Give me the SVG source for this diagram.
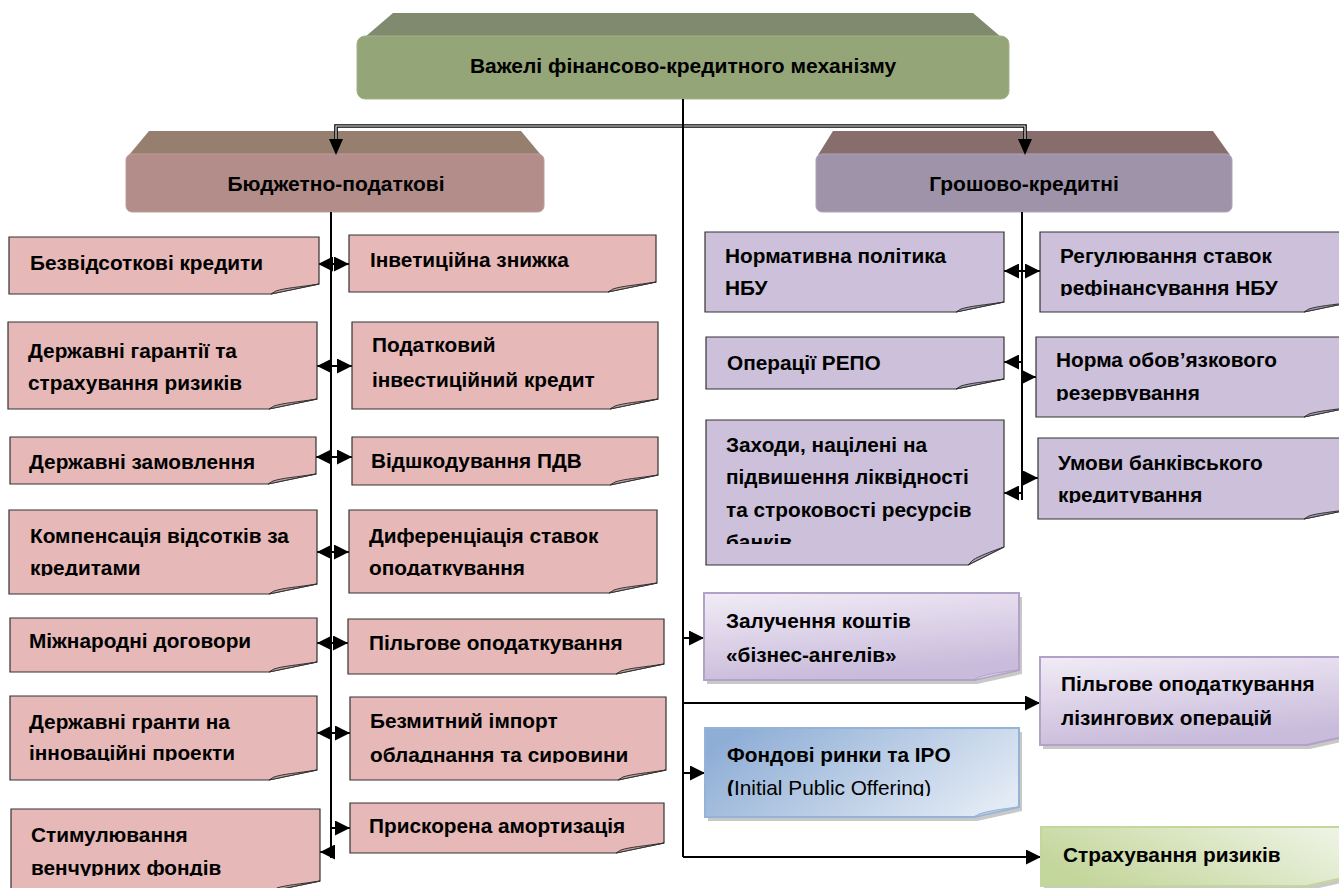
<svg xmlns="http://www.w3.org/2000/svg" width="1339" height="888" viewBox="0 0 1339 888">
<style>
.t{font-family:"Liberation Sans",Arial,sans-serif;font-weight:bold;font-size:20.8px;fill:#000}
.h{font-family:"Liberation Sans",Arial,sans-serif;font-weight:bold;font-size:21px;fill:#000;text-anchor:middle}
.pink{fill:#e6b8b7;stroke:#333;stroke-width:1.2}
.pfold{fill:#c7a3a2;stroke:#333;stroke-width:1}
.lav{fill:#ccc0da;stroke:#333;stroke-width:1.2}
.lfold{fill:#a79fb3;stroke:#333;stroke-width:1}
.conn{stroke:#000;stroke-width:2;fill:none}
.shadow{fill:#9a9a9a;opacity:0.55}
</style>
<defs>
<marker id="ah" viewBox="0 0 14 14" refX="14" refY="7" markerWidth="15" markerHeight="15" markerUnits="userSpaceOnUse" orient="auto-start-reverse"><path d="M0,0 L14,7 L0,14 Z" fill="#000"/></marker>
<linearGradient id="gLav" x1="0" y1="0" x2="0.3" y2="1"><stop offset="0" stop-color="#f1ecf6"/><stop offset="1" stop-color="#c9bbdb"/></linearGradient>
<linearGradient id="gBlue" x1="0" y1="0.3" x2="1" y2="0.7"><stop offset="0" stop-color="#8faed6"/><stop offset="1" stop-color="#e2eaf4"/></linearGradient>
<linearGradient id="gGreen" x1="0" y1="0.6" x2="1" y2="0.2"><stop offset="0" stop-color="#c3d69b"/><stop offset="1" stop-color="#eef3e3"/></linearGradient>
<clipPath id="cL4"><rect x="0" y="500" width="340" height="76"/></clipPath>
<clipPath id="cL6"><rect x="0" y="690" width="340" height="71"/></clipPath>
<clipPath id="cL7"><rect x="0" y="800" width="340" height="76"/></clipPath>
<clipPath id="cR4"><rect x="340" y="500" width="340" height="76"/></clipPath>
<clipPath id="cR6"><rect x="340" y="690" width="340" height="73"/></clipPath>
<clipPath id="cQ1"><rect x="1030" y="225" width="320" height="71"/></clipPath>
<clipPath id="cQ2"><rect x="1030" y="330" width="320" height="71"/></clipPath>
<clipPath id="cQ3"><rect x="1030" y="430" width="320" height="73"/></clipPath>
<clipPath id="cP3"><rect x="700" y="415" width="310" height="129"/></clipPath>
<clipPath id="cS2"><rect x="1030" y="650" width="320" height="76"/></clipPath>
<clipPath id="cS3"><rect x="700" y="720" width="320" height="76"/></clipPath>
</defs>

<!-- top node -->
<g id="root">
<polygon points="393,13 973,13 1001,37 365,37" fill="#7f8a6f"/>
<rect x="357" y="36" width="652" height="63" rx="8" fill="#94a578" stroke="#a3b28a" stroke-width="1"/>
<text class="h" x="683" y="73">Важелі фінансово-кредитного механізму</text>
</g>

<g id="cat-budget">
<polygon points="149,131 521,131 541,155 129,155" fill="#967f6e"/>
<rect x="126" y="154" width="418" height="58" rx="6" fill="#b28d8a" stroke="#bf9d9a" stroke-width="1"/>
<text class="h" x="336" y="191">Бюджетно-податкові</text>
</g>

<g id="cat-money">
<polygon points="833,131 1213,131 1230,155 818,155" fill="#876e6c"/>
<rect x="816" y="154" width="416" height="58" rx="6" fill="#9e93a8" stroke="#aea3b6" stroke-width="1"/>
<text class="h" x="1024" y="191">Грошово-кредитні</text>
</g>

<!-- connectors -->
<g id="connectors">
<path d="M336,140 V126 H1025 V140" stroke="#000" stroke-width="3.6" fill="none"/>
<path d="M336,140 V126 H1025 V140" stroke="#fff" stroke-width="1.1" fill="none"/>
<polygon points="329,139 343,139 336,155" fill="#000"/>
<polygon points="1018,139 1032,139 1025,155" fill="#000"/>
<path class="conn" d="M683,99 V857"/>
<path class="conn" d="M331,212 V858"/>
<path class="conn" d="M1022,212 V500"/>
<path class="conn" d="M318,264 H349" marker-start="url(#ah)" marker-end="url(#ah)"/>
<path class="conn" d="M317,366 H352" marker-start="url(#ah)" marker-end="url(#ah)"/>
<path class="conn" d="M316,457 H352" marker-start="url(#ah)" marker-end="url(#ah)"/>
<path class="conn" d="M317,552 H349" marker-start="url(#ah)" marker-end="url(#ah)"/>
<path class="conn" d="M317,643 H348" marker-start="url(#ah)" marker-end="url(#ah)"/>
<path class="conn" d="M317,733 H350" marker-start="url(#ah)" marker-end="url(#ah)"/>
<path class="conn" d="M331,828 H350" marker-end="url(#ah)"/>
<path class="conn" d="M331,852 H320" marker-end="url(#ah)"/>
<path class="conn" d="M1004,271 H1040" marker-start="url(#ah)" marker-end="url(#ah)"/>
<path class="conn" d="M1022,362 H1004" marker-end="url(#ah)"/>
<path class="conn" d="M1022,377 H1036" marker-end="url(#ah)"/>
<path class="conn" d="M1022,478 H1038" marker-end="url(#ah)"/>
<path class="conn" d="M1022,493 H1004" marker-end="url(#ah)"/>
<path class="conn" d="M683,638 H704" marker-end="url(#ah)"/>
<path class="conn" d="M683,703 H1040" marker-end="url(#ah)"/>
<path class="conn" d="M683,773 H705" marker-end="url(#ah)"/>
<path class="conn" d="M683,857 H1041" marker-end="url(#ah)"/>
</g>

<!-- left pink column -->
<g id="n-l1">
<path class="pink" d="M9,237 H319 V284 L271,294 H9 Z"/>
<path class="pfold" d="M271,294 L319,284 C300,287 285,288 276,291 Z"/>
<text class="t" x="30" y="270">Безвідсоткові кредити</text>
</g>
<g id="n-l2">
<path class="pink" d="M8,322 H317 V399 L269,409 H8 Z"/>
<path class="pfold" d="M269,409 L317,399 C298,402 283,403 274,406 Z"/>
<text class="t" x="28" y="358">Державні гарантії та</text>
<text class="t" x="28" y="390">страхування ризиків</text>
</g>
<g id="n-l3">
<path class="pink" d="M10,437 H316 V474 L268,484 H10 Z"/>
<path class="pfold" d="M268,484 L316,474 C297,477 282,478 273,481 Z"/>
<text class="t" x="29" y="469">Державні замовлення</text>
</g>
<g id="n-l4">
<path class="pink" d="M9,510 H317 V584 L269,594 H9 Z"/>
<path class="pfold" d="M269,594 L317,584 C298,587 283,588 274,591 Z"/>
<text class="t" x="30" y="543">Компенсація відсотків за</text>
<text class="t" x="30" y="575" clip-path="url(#cL4)">кредитами</text>
</g>
<g id="n-l5">
<path class="pink" d="M10,618 H317 V662 L269,672 H10 Z"/>
<path class="pfold" d="M269,672 L317,662 C298,665 283,666 274,669 Z"/>
<text class="t" x="29" y="648">Міжнародні договори</text>
</g>
<g id="n-l6">
<path class="pink" d="M10,696 H317 V770 L269,780 H10 Z"/>
<path class="pfold" d="M269,780 L317,770 C298,773 283,774 274,777 Z"/>
<text class="t" x="29" y="729">Державні гранти на</text>
<text class="t" x="29" y="760" clip-path="url(#cL6)">інноваційні проекти</text>
</g>
<g id="n-l7">
<path class="pink" d="M11,809 H320 V881 L272,891 H11 Z"/>
<path class="pfold" d="M272,891 L320,881 C301,884 286,885 277,888 Z"/>
<text class="t" x="31" y="842">Стимулювання</text>
<text class="t" x="31" y="875" clip-path="url(#cL7)">венчурних фондів</text>
</g>

<!-- right pink column -->
<g id="n-r1">
<path class="pink" d="M349,235 H656 V282 L608,292 H349 Z"/>
<path class="pfold" d="M608,292 L656,282 C637,285 622,286 613,289 Z"/>
<text class="t" x="370" y="267">Інветиційна знижка</text>
</g>
<g id="n-r2">
<path class="pink" d="M352,322 H658 V399 L610,409 H352 Z"/>
<path class="pfold" d="M610,409 L658,399 C639,402 624,403 615,406 Z"/>
<text class="t" x="372" y="352">Податковий</text>
<text class="t" x="372" y="387">інвестиційний кредит</text>
</g>
<g id="n-r3">
<path class="pink" d="M352,437 H658 V475 L610,485 H352 Z"/>
<path class="pfold" d="M610,485 L658,475 C639,478 624,479 615,482 Z"/>
<text class="t" x="371" y="468">Відшкодування ПДВ</text>
</g>
<g id="n-r4">
<path class="pink" d="M349,510 H657 V583 L609,593 H349 Z"/>
<path class="pfold" d="M609,593 L657,583 C638,586 623,587 614,590 Z"/>
<text class="t" x="369" y="543">Диференціація ставок</text>
<text class="t" x="369" y="575" clip-path="url(#cR4)">оподаткування</text>
</g>
<g id="n-r5">
<path class="pink" d="M348,619 H664 V664 L616,674 H348 Z"/>
<path class="pfold" d="M616,674 L664,664 C645,667 630,668 621,671 Z"/>
<text class="t" x="369" y="650">Пільгове оподаткування</text>
</g>
<g id="n-r6">
<path class="pink" d="M350,697 H666 V770 L618,780 H350 Z"/>
<path class="pfold" d="M618,780 L666,770 C647,773 632,774 623,777 Z"/>
<text class="t" x="370" y="728">Безмитний імпорт</text>
<text class="t" x="370" y="762" clip-path="url(#cR6)">обладнання та сировини</text>
</g>
<g id="n-r7">
<path class="pink" d="M350,803 H664 V843 L616,853 H350 Z"/>
<path class="pfold" d="M616,853 L664,843 C645,846 630,847 621,850 Z"/>
<text class="t" x="369" y="833">Прискорена амортизація</text>
</g>

<!-- purple column left -->
<g id="n-p1">
<path class="lav" d="M705,232 H1004 V302 L956,312 H705 Z"/>
<path class="lfold" d="M956,312 L1004,302 C985,305 970,306 961,309 Z"/>
<text class="t" x="725" y="263">Нормативна політика</text>
<text class="t" x="725" y="295">НБУ</text>
</g>
<g id="n-p2">
<path class="lav" d="M706,337 H1004 V379 L956,389 H706 Z"/>
<path class="lfold" d="M956,389 L1004,379 C985,382 970,383 961,386 Z"/>
<text class="t" x="727" y="370">Операції РЕПО</text>
</g>
<g id="n-p3">
<path class="lav" d="M706,420 H1004 V547 L968,565 H706 Z"/>
<path class="lfold" d="M968,565 L1004,547 C990,552 979,556 973,560 Z"/>
<g clip-path="url(#cP3)">
<text class="t" x="726" y="452">Заходи, націлені на</text>
<text class="t" x="726" y="484">підвишення ліквідності</text>
<text class="t" x="726" y="517">та строковості ресурсів</text>
<text class="t" x="726" y="549">банків</text>
</g>
</g>

<!-- purple column right -->
<g id="n-q1">
<path class="lav" d="M1040,232 H1352 V302 L1304,312 H1040 Z"/>
<path class="lfold" d="M1304,312 L1352,302 C1333,305 1318,306 1309,309 Z"/>
<text class="t" x="1060" y="263">Регулювання ставок</text>
<text class="t" x="1060" y="295" clip-path="url(#cQ1)">рефінансування НБУ</text>
</g>
<g id="n-q2">
<path class="lav" d="M1036,337 H1352 V407 L1304,417 H1036 Z"/>
<path class="lfold" d="M1304,417 L1352,407 C1333,410 1318,411 1309,414 Z"/>
<text class="t" x="1056" y="367">Норма обов’язкового</text>
<text class="t" x="1056" y="400" clip-path="url(#cQ2)">резервування</text>
</g>
<g id="n-q3">
<path class="lav" d="M1038,438 H1352 V509 L1304,519 H1038 Z"/>
<path class="lfold" d="M1304,519 L1352,509 C1333,512 1318,513 1309,516 Z"/>
<text class="t" x="1058" y="470">Умови банківського</text>
<text class="t" x="1058" y="502" clip-path="url(#cQ3)">кредитування</text>
</g>

<!-- lower right -->
<g id="n-s1">
<path class="shadow" d="M707,597 H1022 V674 L977,684 H707 Z"/>
<path d="M704,593 H1019 V670 L974,680 H704 Z" fill="url(#gLav)" stroke="#b3a2c7" stroke-width="2"/>
<path d="M974,680 L1019,670 C1001,672 988,674 979,677 Z" fill="#d9d0e4" stroke="#b3a2c7" stroke-width="1"/>
<text class="t" x="726" y="628">Залучення коштів</text>
<text class="t" x="726" y="662">«бізнес-ангелів»</text>
</g>
<g id="n-s2">
<path class="shadow" d="M1043,661 H1355 V739 L1310,749 H1043 Z"/>
<path d="M1040,657 H1352 V735 L1307,745 H1040 Z" fill="url(#gLav)" stroke="#b3a2c7" stroke-width="2"/>
<text class="t" x="1061" y="691">Пільгове оподаткування</text>
<text class="t" x="1061" y="725" clip-path="url(#cS2)">лізингових операцій</text>
</g>
<g id="n-s3">
<path class="shadow" d="M708,732 H1022 V811 L977,821 H708 Z"/>
<path d="M705,728 H1019 V807 L974,817 H705 Z" fill="url(#gBlue)" stroke="#95b3d7" stroke-width="2"/>
<path d="M974,817 L1019,807 C1001,809 988,811 979,814 Z" fill="#b9cbe2" stroke="#95b3d7" stroke-width="1"/>
<text class="t" x="727" y="762">Фондові ринки та IPO</text>
<text class="t" x="727" y="795" clip-path="url(#cS3)">(<tspan font-weight="normal">Initial Public Offering)</tspan></text>
</g>
<g id="n-s4">
<path class="shadow" d="M1044,831 H1355 V880 L1310,890 H1044 Z"/>
<path d="M1041,827 H1352 V876 L1307,886 H1041 Z" fill="url(#gGreen)" stroke="#c3d69b" stroke-width="2"/>
<text class="t" x="1063" y="862">Страхування ризиків</text>
</g>
</svg>
